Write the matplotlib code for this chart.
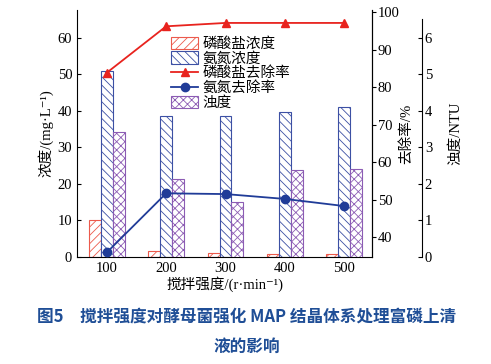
import matplotlib
matplotlib.use('Agg')
import matplotlib.pyplot as plt
import numpy as np

plt.rcParams['font.family'] = ['Liberation Serif', 'Noto Sans CJK SC', 'DejaVu Sans']
plt.rcParams['hatch.linewidth'] = 0.6

# 数据
speed = ['100', '200', '300', '400', '500']
phos_conc = [10.0, 1.5, 1.0, 0.8, 0.8]          # mg/L
nh_conc = [51.0, 38.5, 38.5, 39.7, 41.0]        # mg/L
turbidity = [3.42, 2.12, 1.51, 2.38, 2.41]      # NTU
phos_rem = [83.9, 96.3, 97.2, 97.2, 97.2]       # %
nh_rem = [35.9, 51.7, 51.5, 50.2, 48.3]         # %

x = np.arange(len(speed))
w = 0.2

red = '#ec5a4c'
blue = '#3c50a4'
purple = '#8c5cb4'

fig = plt.figure(figsize=(4.91, 3.64), dpi=100)
ax = fig.add_axes([0.157, 0.294, 0.601, 0.679])
ax2 = ax.twinx()
ax3 = ax.twinx()

b1 = ax.bar(x - w, phos_conc, w, color='white', edgecolor=red, hatch='////', linewidth=0.8)
b2 = ax.bar(x, nh_conc, w, color='white', edgecolor=blue, hatch='\\\\\\\\', linewidth=0.8)
b3 = ax3.bar(x + w, turbidity, w, color='white', edgecolor=purple, hatch='xxxx', linewidth=0.8)

l1, = ax2.plot(x, phos_rem, color='#e8231e', marker='^', markersize=6, linewidth=1.3)
l2, = ax2.plot(x, nh_rem, color='#203c98', marker='o', markersize=6, linewidth=1.3)

ax.set_xlim(-0.5, 4.47)
ax.set_ylim(0, 67.6)
ax2.set_ylim(34.7, 100.7)
ax3.set_ylim(0, 6.76)

ax.set_zorder(1)
ax3.set_zorder(2)
ax2.set_zorder(3)
ax.patch.set_visible(True)

ax.set_xticks(x)
ax.set_xticklabels(speed)
ax.set_yticks(np.arange(0, 61, 10))
ax2.set_yticks(np.arange(40, 101, 10))
ax3.set_yticks(np.arange(0, 7, 1))

for a in (ax, ax2, ax3):
    a.spines['top'].set_visible(False)
    a.tick_params(labelsize=10.5, length=3, width=0.8)
ax.tick_params(axis='y', direction='in')
ax.tick_params(axis='x', length=0)
ax2.tick_params(axis='y', direction='out', pad=1)
ax3.tick_params(axis='y', direction='in', pad=2)

ax3.spines['right'].set_position(('axes', 1.169))
ax3.spines['right'].set_bounds(0, 6.5)
for a in (ax2, ax3):
    a.spines['left'].set_visible(False)
    a.spines['bottom'].set_visible(False)

ax.set_xlabel('搅拌强度/(r·min⁻¹)', fontsize=10.5, labelpad=1)
ax.set_ylabel('浓度/(mg·L⁻¹)', fontsize=10.5, labelpad=3)
ax2.set_ylabel('去除率/%', fontsize=10.5, labelpad=0)
ax3.set_ylabel('浊度/NTU', fontsize=10.5, labelpad=12)

ax2.legend([b1, b2, l1, l2, b3], ['磷酸盐浓度', '氨氮浓度', '磷酸盐去除率', '氨氮去除率', '浊度'],
           loc='upper left', bbox_to_anchor=(0.3, 0.915), frameon=False,
           handlelength=1.8, handleheight=0.9, labelspacing=0.05, borderaxespad=0,
           handletextpad=0.3, prop={'family': ['Noto Sans CJK SC'], 'size': 10.5})

cap = '#1f4e96'
fig.text(0.503, 0.127, '图5　搅拌强度对酵母菌强化 MAP 结晶体系处理富磷上清',
         ha='center', va='center', fontsize=12, fontweight='bold', color=cap,
         family=['Noto Sans CJK SC'])
fig.text(0.503, 0.047, '液的影响', ha='center', va='center', fontsize=12,
         fontweight='bold', color=cap, family=['Noto Sans CJK SC'])

fig.savefig('out.png', dpi=100)
